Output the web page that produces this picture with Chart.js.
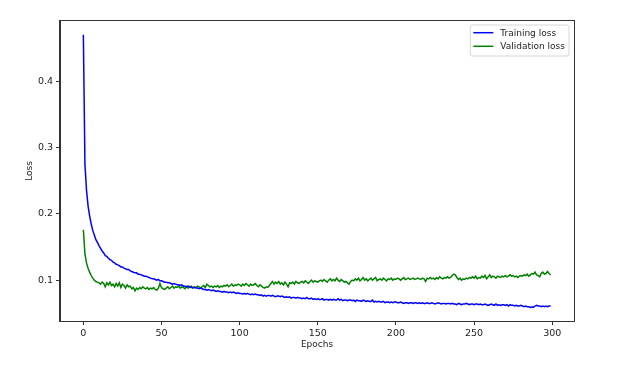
<!DOCTYPE html>
<html>
<head>
<meta charset="utf-8">
<script src="https://cdn.jsdelivr.net/npm/chart.js@4.4.1/dist/chart.umd.min.js"></script>
<style>
  html, body { margin: 0; padding: 0; background: #ffffff; }
  #wrap { width: 631px; height: 373px; }
</style>
</head>
<body>
<div id="wrap"><canvas id="c" width="631" height="373"></canvas></div>
<script>
const seriesNames = ['Training loss', 'Validation loss'];
const xTickValues = [0, 50, 100, 150, 200, 250, 300];
const yTickValues = [0.1, 0.2, 0.3, 0.4];
const xTitle = 'Epochs';
const yTitle = 'Loss';

const trainingLoss = [
  0.470, 0.275, 0.236, 0.212, 0.197, 0.185, 0.175, 0.168, 0.161, 0.157,
  0.152, 0.148, 0.144, 0.141, 0.137, 0.136, 0.133, 0.131, 0.130, 0.127,
  0.126, 0.124, 0.123, 0.122, 0.120, 0.120, 0.118, 0.117, 0.116, 0.116,
  0.114, 0.113, 0.112, 0.111, 0.111, 0.109, 0.109, 0.108, 0.107, 0.106,
  0.106, 0.105, 0.104, 0.103, 0.102, 0.102, 0.101, 0.100, 0.101, 0.099,
  0.099, 0.098, 0.097, 0.097, 0.096, 0.096, 0.095, 0.094, 0.095, 0.094,
  0.093, 0.093, 0.092, 0.093, 0.091, 0.091, 0.090, 0.091, 0.090, 0.089,
  0.089, 0.089, 0.088, 0.088, 0.087, 0.088, 0.087, 0.086, 0.086, 0.085,
  0.086, 0.085, 0.084, 0.085, 0.084, 0.083, 0.084, 0.083, 0.083, 0.082,
  0.083, 0.082, 0.082, 0.081, 0.082, 0.081, 0.082, 0.081, 0.080, 0.081,
  0.080, 0.080, 0.079, 0.080, 0.079, 0.080, 0.079, 0.078, 0.079, 0.078,
  0.079, 0.078, 0.078, 0.077, 0.078, 0.076, 0.077, 0.076, 0.077, 0.077,
  0.076, 0.077, 0.076, 0.075, 0.076, 0.076, 0.075, 0.076, 0.075, 0.074,
  0.075, 0.074, 0.075, 0.073, 0.074, 0.074, 0.073, 0.074, 0.073, 0.073,
  0.072, 0.073, 0.072, 0.074, 0.072, 0.072, 0.073, 0.071, 0.072, 0.071,
  0.072, 0.071, 0.071, 0.072, 0.070, 0.071, 0.071, 0.070, 0.071, 0.070,
  0.071, 0.070, 0.070, 0.072, 0.070, 0.071, 0.069, 0.070, 0.070, 0.069,
  0.070, 0.070, 0.069, 0.070, 0.068, 0.070, 0.069, 0.069, 0.068, 0.070,
  0.069, 0.068, 0.069, 0.068, 0.068, 0.070, 0.067, 0.068, 0.067, 0.068,
  0.067, 0.067, 0.068, 0.066, 0.067, 0.067, 0.066, 0.067, 0.066, 0.067,
  0.067, 0.066, 0.066, 0.067, 0.066, 0.065, 0.066, 0.066, 0.065, 0.066,
  0.066, 0.065, 0.066, 0.066, 0.065, 0.066, 0.065, 0.066, 0.065, 0.065,
  0.066, 0.065, 0.065, 0.066, 0.065, 0.064, 0.065, 0.066, 0.065, 0.064,
  0.065, 0.065, 0.064, 0.065, 0.065, 0.064, 0.065, 0.064, 0.064, 0.063,
  0.065, 0.064, 0.063, 0.064, 0.064, 0.065, 0.064, 0.063, 0.064, 0.064,
  0.063, 0.064, 0.064, 0.063, 0.064, 0.063, 0.063, 0.064, 0.063, 0.062,
  0.063, 0.064, 0.063, 0.062, 0.064, 0.062, 0.063, 0.062, 0.063, 0.063,
  0.062, 0.063, 0.061, 0.063, 0.062, 0.062, 0.061, 0.062, 0.061, 0.061,
  0.062, 0.061, 0.060, 0.061, 0.060, 0.060, 0.059, 0.060, 0.059, 0.061,
  0.062, 0.061, 0.061, 0.060, 0.061, 0.060, 0.061, 0.060, 0.061, 0.061
];

const validationLoss = [
  0.176, 0.140, 0.126, 0.118, 0.112, 0.107, 0.103, 0.100, 0.098, 0.097,
  0.096, 0.094, 0.097, 0.095, 0.090, 0.096, 0.093, 0.097, 0.092, 0.094,
  0.090, 0.095, 0.091, 0.096, 0.089, 0.094, 0.092, 0.088, 0.093, 0.090,
  0.091, 0.087, 0.089, 0.084, 0.088, 0.086, 0.089, 0.087, 0.090, 0.088,
  0.087, 0.089, 0.086, 0.088, 0.087, 0.089, 0.086, 0.085, 0.088, 0.095,
  0.089, 0.087, 0.086, 0.088, 0.090, 0.087, 0.089, 0.091, 0.088, 0.090,
  0.089, 0.091, 0.088, 0.090, 0.089, 0.087, 0.090, 0.088, 0.089, 0.091,
  0.088, 0.090, 0.089, 0.091, 0.090, 0.088, 0.090, 0.092, 0.089, 0.094,
  0.092, 0.090, 0.091, 0.089, 0.091, 0.090, 0.092, 0.089, 0.091, 0.090,
  0.092, 0.091, 0.093, 0.090, 0.092, 0.094, 0.091, 0.093, 0.092, 0.094,
  0.093, 0.091, 0.094, 0.092, 0.095, 0.093, 0.091, 0.094, 0.092, 0.093,
  0.095, 0.092, 0.090, 0.093, 0.091, 0.089, 0.088, 0.090, 0.089, 0.092,
  0.095, 0.098, 0.094, 0.097, 0.095, 0.098, 0.094, 0.096, 0.093, 0.097,
  0.094, 0.090, 0.096, 0.095, 0.097, 0.094, 0.098, 0.096, 0.095, 0.097,
  0.098, 0.096, 0.099, 0.097, 0.095, 0.098, 0.100, 0.097, 0.099, 0.098,
  0.097, 0.099, 0.100, 0.098, 0.101, 0.099, 0.097, 0.100, 0.102, 0.099,
  0.101, 0.099, 0.103, 0.100, 0.098, 0.101, 0.099, 0.097, 0.098, 0.096,
  0.094, 0.098, 0.100, 0.099, 0.102, 0.100, 0.103, 0.099, 0.101, 0.104,
  0.100, 0.102, 0.099, 0.101, 0.103, 0.100, 0.102, 0.104, 0.099, 0.101,
  0.102, 0.100, 0.103, 0.101, 0.099, 0.102, 0.101, 0.103, 0.100, 0.102,
  0.101, 0.103, 0.102, 0.100, 0.102, 0.104, 0.101, 0.102, 0.103, 0.101,
  0.102, 0.103, 0.101, 0.102, 0.103, 0.102, 0.101, 0.103, 0.102, 0.098,
  0.103, 0.102, 0.104, 0.102, 0.103, 0.101, 0.104, 0.102, 0.105, 0.103,
  0.102, 0.104, 0.103, 0.105, 0.103, 0.104, 0.107, 0.109, 0.108, 0.104,
  0.101, 0.103, 0.100, 0.102, 0.101, 0.103, 0.102, 0.104, 0.103, 0.105,
  0.103, 0.106, 0.102, 0.104, 0.103, 0.106, 0.104, 0.107, 0.102, 0.105,
  0.108, 0.104, 0.106, 0.105, 0.103, 0.106, 0.105, 0.104, 0.106, 0.105,
  0.107, 0.105, 0.106, 0.108, 0.106, 0.107, 0.105, 0.106, 0.104, 0.106,
  0.107, 0.106, 0.108, 0.107, 0.109, 0.106, 0.108, 0.110, 0.109, 0.112,
  0.108, 0.107, 0.105, 0.110, 0.112, 0.109, 0.110, 0.113, 0.110, 0.108
];

const epochs = trainingLoss.map((_, i) => i);
const seriesColors = ['#0000ff', '#008000'];
const FONT = 'DejaVu Sans';

function toPoints(arr) { return arr.map((v, i) => ({ x: epochs[i], y: v })); }

// matplotlib-like 5% margins
const xMinData = epochs[0], xMaxData = epochs[epochs.length - 1];
const allY = trainingLoss.concat(validationLoss);
const yMinData = Math.min(...allY), yMaxData = Math.max(...allY);
const xPad = (xMaxData - xMinData) * 0.05;
const yPad = (yMaxData - yMinData) * 0.05;

const framePlugin = {
  id: 'frame',
  afterDatasetsDraw(chart) {
    const { ctx, chartArea: a } = chart;
    ctx.save();
    ctx.strokeStyle = '#333';
    ctx.lineWidth = 1;
    ctx.strokeRect(Math.round(a.left) - 0.5, Math.round(a.top) - 0.5,
                   Math.round(a.right - a.left) + 1, Math.round(a.bottom - a.top) + 1);
    ctx.restore();
  },
  afterDraw(chart) {
    const { ctx, chartArea: a } = chart;
    ctx.save();
    ctx.font = '9px "' + FONT + '"';
    const ds = chart.data.datasets;
    let tw = 0;
    ds.forEach(d => { tw = Math.max(tw, ctx.measureText(d.label).width); });
    const boxW = 30 + tw + 4;
    const boxH = 31;
    const bx = a.right - 5 - boxW;
    const by = a.top + 4;
    const r = 2;
    ctx.beginPath();
    ctx.moveTo(bx + r, by);
    ctx.lineTo(bx + boxW - r, by);
    ctx.quadraticCurveTo(bx + boxW, by, bx + boxW, by + r);
    ctx.lineTo(bx + boxW, by + boxH - r);
    ctx.quadraticCurveTo(bx + boxW, by + boxH, bx + boxW - r, by + boxH);
    ctx.lineTo(bx + r, by + boxH);
    ctx.quadraticCurveTo(bx, by + boxH, bx, by + boxH - r);
    ctx.lineTo(bx, by + r);
    ctx.quadraticCurveTo(bx, by, bx + r, by);
    ctx.closePath();
    ctx.fillStyle = 'rgba(255,255,255,0.8)';
    ctx.fill();
    ctx.strokeStyle = '#d6d6d6';
    ctx.lineWidth = 1;
    ctx.stroke();
    ds.forEach((d, i) => {
      const cy = by + 7.7 + i * 13.6;
      ctx.beginPath();
      ctx.strokeStyle = d.borderColor;
      ctx.lineWidth = 1.5;
      ctx.moveTo(bx + 3, cy);
      ctx.lineTo(bx + 23, cy);
      ctx.stroke();
      ctx.fillStyle = '#222';
      ctx.textBaseline = 'middle';
      ctx.textAlign = 'left';
      ctx.fillText(d.label, bx + 30, cy + 0.5);
    });
    ctx.restore();
  }
};

new Chart(document.getElementById('c'), {
  type: 'line',
  data: {
    datasets: [
      { label: seriesNames[0], data: toPoints(trainingLoss), borderColor: seriesColors[0],
        borderWidth: 1.5, pointRadius: 0, tension: 0, fill: false },
      { label: seriesNames[1], data: toPoints(validationLoss), borderColor: seriesColors[1],
        borderWidth: 1.5, pointRadius: 0, tension: 0, fill: false }
    ]
  },
  options: {
    responsive: false,
    devicePixelRatio: 1,
    animation: false,
    events: [],
    layout: { padding: { top: 21, right: 57, bottom: 0, left: 0 } },
    plugins: { legend: { display: false }, tooltip: { enabled: false } },
    scales: {
      x: {
        type: 'linear',
        min: xMinData - xPad,
        max: xMaxData + xPad,
        afterBuildTicks(scale) { scale.ticks = xTickValues.map(v => ({ value: v })); },
        afterFit(scale) { scale.height = 52; },
        grid: { drawOnChartArea: false, drawTicks: true, tickLength: 4, color: '#333', lineWidth: 1 },
        border: { display: true, color: '#333', width: 1 },
        ticks: { color: '#222', font: { family: FONT, size: 9.5 }, padding: 3,
                 maxRotation: 0, autoSkip: false, callback: v => String(v) },
        title: { display: true, text: xTitle, color: '#222', font: { family: FONT, size: 9 },
                 padding: { top: 0, bottom: 23 } }
      },
      y: {
        type: 'linear',
        min: yMinData - yPad,
        max: yMaxData + yPad,
        afterBuildTicks(scale) { scale.ticks = yTickValues.map(v => ({ value: v })); },
        afterFit(scale) { scale.width = 60; },
        grid: { drawOnChartArea: false, drawTicks: true, tickLength: 4, color: '#333', lineWidth: 1 },
        border: { display: true, color: '#333', width: 1 },
        ticks: { color: '#222', font: { family: FONT, size: 9.5 }, padding: 3,
                 autoSkip: false, callback: v => v.toFixed(1) },
        title: { display: true, text: yTitle, color: '#222', font: { family: FONT, size: 9 },
                 padding: { top: 24, bottom: 0 } }
      }
    }
  },
  plugins: [framePlugin]
});
</script>
</body>
</html>
